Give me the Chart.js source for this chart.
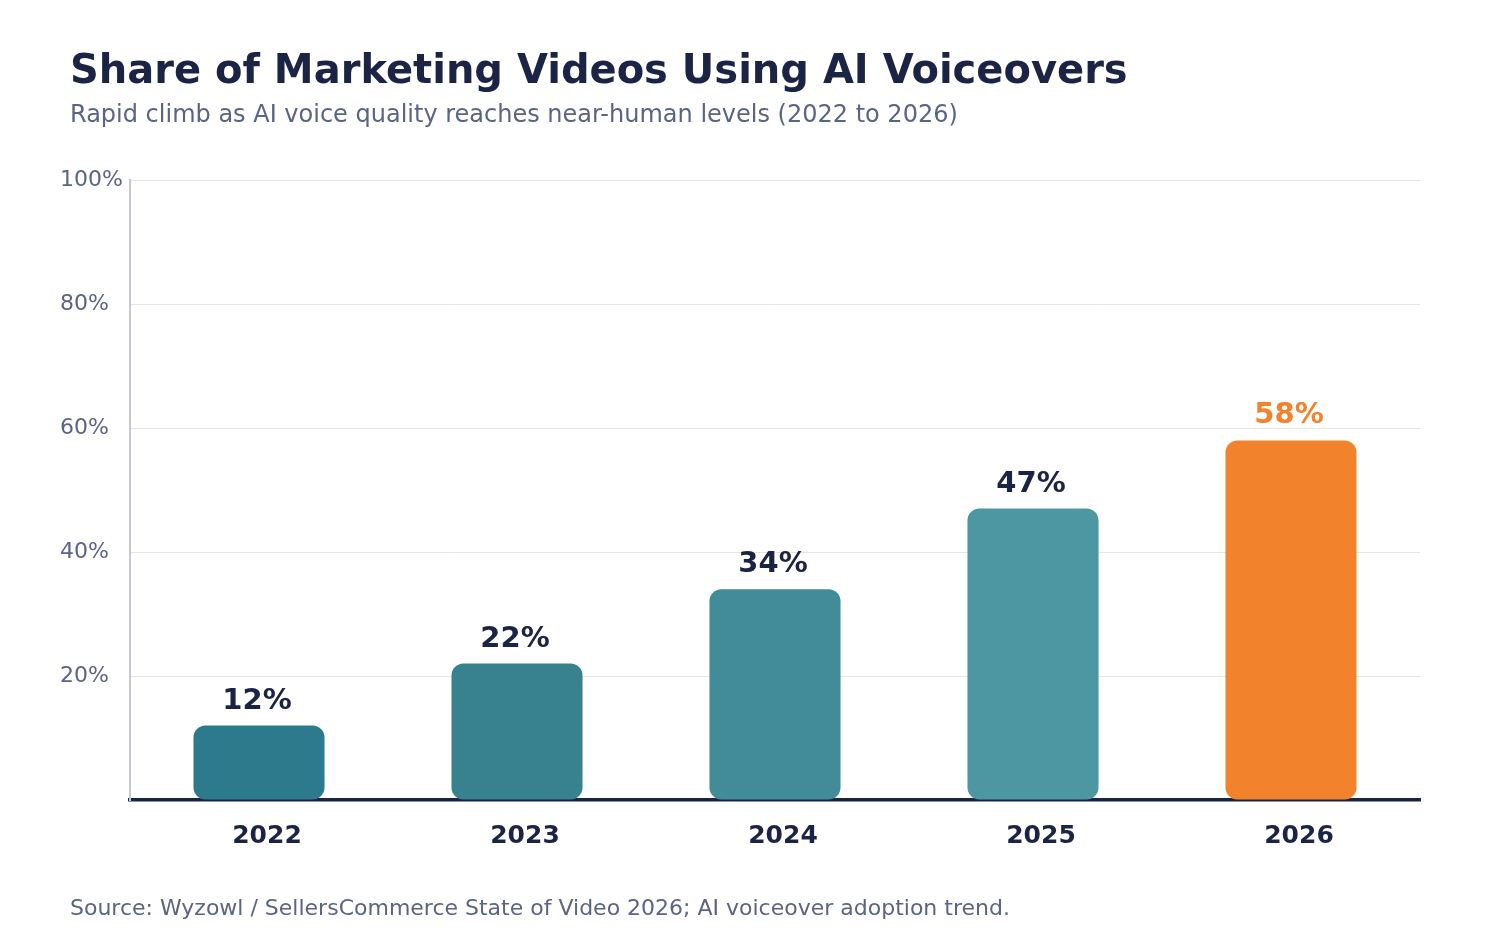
<!DOCTYPE html>
<html>
<head>
<meta charset="utf-8">
<script src="https://cdn.jsdelivr.net/npm/chart.js@4.4.1/dist/chart.umd.min.js"></script>
<style>
  html, body { margin: 0; padding: 0; background: #ffffff; }
  body { width: 1500px; height: 950px; position: relative; overflow: hidden; font-family: 'DejaVu Sans', sans-serif; }
  #title { position: absolute; left: 70px; top: 46px; font-size: 40px; font-weight: bold; color: #1b2444; white-space: nowrap; }
  #subtitle { position: absolute; left: 70px; top: 100px; font-size: 24px; color: #5a6585; white-space: nowrap; }
  #source { position: absolute; left: 70px; top: 895px; font-size: 22px; color: #5a6585; white-space: nowrap; }
  #wrap { position: absolute; left: 0; top: 0; width: 1500px; height: 950px; }
</style>
</head>
<body>
<div id="wrap"><canvas id="chart"></canvas></div>
<div id="title">Share of Marketing Videos Using AI Voiceovers</div>
<div id="subtitle">Rapid climb as AI voice quality reaches near-human levels (2022 to 2026)</div>
<div id="source">Source: Wyzowl / SellersCommerce State of Video 2026; AI voiceover adoption trend.</div>
<script>
// chart data
const years = ['2022', '2023', '2024', '2025', '2026'];
const shares = [12, 22, 34, 47, 58];
const barColors = ['#2d7a8c', '#388290', '#428b98', '#4d97a3', '#f2832c'];
const labelColors = ['#1b2444', '#1b2444', '#1b2444', '#1b2444', '#f2832c'];
const yTicks = [0, 20, 40, 60, 80, 100];

// draws the "12%" style labels over each bar
const valueLabels = {
    id: 'valueLabels',
    afterDatasetsDraw(chart) {
        const ctx = chart.ctx;
        const meta = chart.getDatasetMeta(0);
        ctx.save();
        ctx.font = 'bold 29px "DejaVu Sans"';
        ctx.textAlign = 'center';
        ctx.textBaseline = 'alphabetic';
        meta.data.forEach((bar, i) => {
            ctx.fillStyle = labelColors[i];
            ctx.fillText(shares[i] + '%', bar.x - 2, bar.y - 17);
        });
        ctx.restore();
    }
};

new Chart(document.getElementById('chart').getContext('2d'), {
    type: 'bar',
    data: {
        labels: years,
        datasets: [{
            data: shares,
            backgroundColor: barColors,
            borderRadius: 12,
            borderSkipped: false,
            barPercentage: 0.508,
            categoryPercentage: 1.0
        }]
    },
    options: {
        responsive: true,
        maintainAspectRatio: false,
        animation: false,
        devicePixelRatio: 1,
        layout: {
            padding: { left: 60, right: 80, top: 180, bottom: 90 }
        },
        plugins: {
            legend: { display: false },
            tooltip: { enabled: false }
        },
        scales: {
            x: {
                z: 1,
                grid: { display: false, drawTicks: false },
                border: { display: true, color: '#1b2444', width: 3.5 },
                ticks: {
                    color: '#1b2444',
                    font: { family: 'DejaVu Sans', size: 25, weight: 'bold' },
                    padding: 21,
                    labelOffset: 8
                },
                afterFit(scale) { scale.height = 60; }
            },
            y: {
                min: 0,
                max: 100,
                afterBuildTicks(scale) {
                    scale.ticks = yTicks.map(v => ({ value: v }));
                },
                grid: { color: '#e9e5dd', lineWidth: 1, drawTicks: false },
                border: { display: true, color: '#c8c8d0', width: 2 },
                ticks: {
                    color: '#5a6585',
                    font: { family: 'DejaVu Sans', size: 22 },
                    crossAlign: 'far',
                    padding: 8,
                    callback: v => (v === 0 ? '' : v + '%')
                },
                afterFit(scale) { scale.width = 70; }
            }
        }
    },
    plugins: [valueLabels]
});
</script>
</body>
</html>
